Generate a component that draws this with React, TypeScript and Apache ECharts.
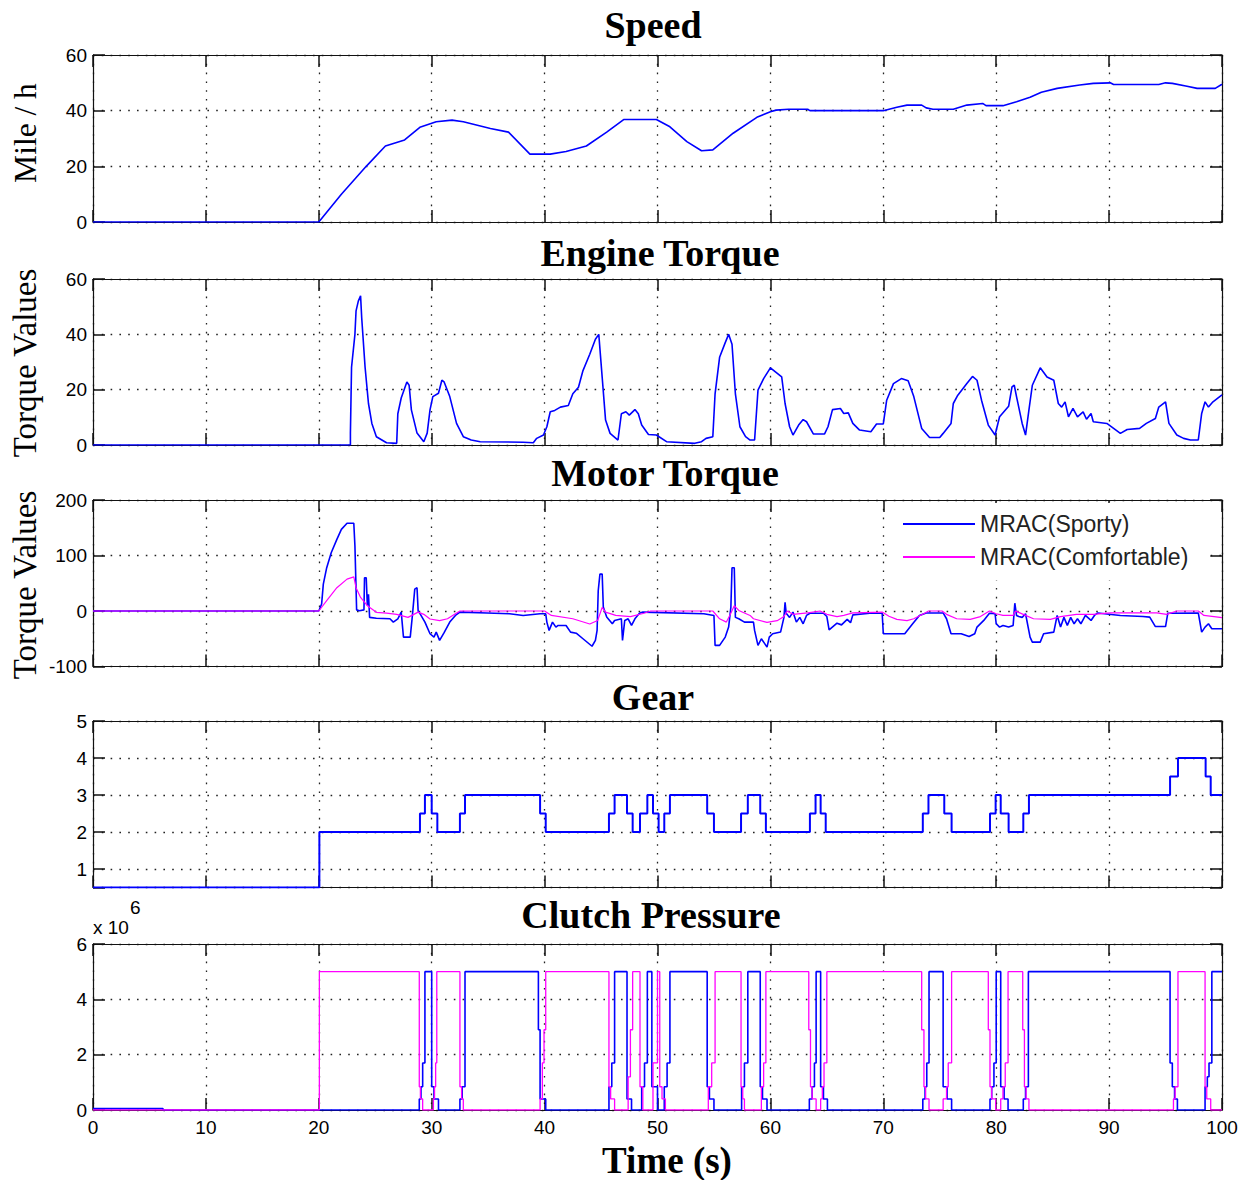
import React, { useEffect, useRef } from 'react';
import * as echarts from 'echarts';

// ---------- data (time s, value) ----------
const timeTicks = [0, 10, 20, 30, 40, 50, 60, 70, 80, 90, 100];

const speed: [number, number][] = [
  [0, 0], [20, 0], [22, 10], [24.2, 20], [25.9, 27.3], [27.6, 29.5], [28.95, 34], [30.4, 36], [31.8, 36.6],
  [32.8, 36], [35.2, 33.6], [36.8, 32.3], [38.7, 24.4], [40.5, 24.4], [41.9, 25.3], [43.7, 27.3], [45.5, 32.3],
  [47, 36.8], [49.9, 36.8], [51.1, 34.2], [52.6, 28.9], [53.9, 25.6], [54.9, 25.9], [56.7, 31.9], [58.8, 37.6],
  [60, 39.6], [60.5, 40.2], [61.6, 40.5], [63.3, 40.5], [63.5, 40], [70, 40], [71.2, 41.2], [72.1, 42], [73.4, 42],
  [73.8, 41], [74.4, 40.5], [76.2, 40.5], [77.4, 42], [78.8, 42.6], [79.1, 41.8], [80.6, 41.8], [81.8, 43.2],
  [83, 44.8], [84, 46.6], [85.4, 48], [87.4, 49.2], [88.6, 49.8], [90.1, 50], [90.4, 49.4], [94.4, 49.4], [95, 50],
  [95.6, 49.8], [96.9, 48.8], [97.8, 48], [99.4, 48], [100, 49.5],
];

const engineTorque: [number, number][] = [
  [0, 0], [22.8, 0], [22.8, 4.2], [22.9, 28.1], [23.2, 40], [23.3, 48.5], [23.5, 52], [23.7, 53.9], [23.8, 46],
  [24.1, 28.1], [24.4, 15], [24.7, 7.8], [25.1, 3], [26, 0.8], [26.9, 0.6], [27, 11.3], [27.3, 17], [27.8, 22.8],
  [28, 21.6], [28.2, 12.7], [28.7, 4.3], [29.3, 1.2], [29.6, 4.3], [29.85, 12.7], [30.1, 17.5], [30.6, 18.7],
  [30.9, 23.4], [31.1, 22.8], [31.6, 17.5], [32.2, 7.8], [32.8, 3], [33.5, 1.8], [34.3, 1.2], [38.1, 1], [39, 0.8],
  [39.3, 2.4], [39.9, 3.6], [40.2, 6.6], [40.5, 12], [40.9, 12.5], [41.4, 13.7], [42.1, 14.3], [42.5, 18.5],
  [43, 20.9], [43.4, 26.9], [44, 32.8], [44.5, 38.2], [44.8, 40], [45.1, 24.5], [45.4, 9], [45.8, 4.2], [46.5, 1.8],
  [46.8, 11.3], [47.2, 12], [47.5, 10.8], [48, 12.8], [48.3, 11.3], [48.6, 7.2], [49.2, 3.8], [49.9, 3.6],
  [50.8, 1.2], [53.3, 0.6], [53.9, 1.2], [54.3, 2.4], [54.9, 3], [55.1, 18.5], [55.5, 31.7], [56, 37], [56.3, 40],
  [56.6, 36.4], [56.9, 18.5], [57.3, 6.6], [57.8, 3], [58.2, 1.8], [58.6, 1.8], [58.9, 19.8], [59.4, 24], [60, 27.9],
  [61, 24.6], [61.3, 15], [61.7, 6.6], [62, 3.6], [62.5, 7.2], [62.9, 9.2], [63.2, 8.4], [63.8, 4], [64.8, 4],
  [65.1, 6.6], [65.5, 12.8], [66.2, 13.2], [66.5, 11.4], [66.9, 11.6], [67.3, 7.8], [67.9, 5.4], [68.9, 4.8],
  [69.4, 7.6], [70, 7.6], [70.3, 16.2], [70.9, 22.2], [71.6, 24], [72.2, 23.2], [72.7, 17.5], [73.4, 6], [74.1, 2.7],
  [75, 2.7], [75.3, 4.2], [76, 7.8], [76.2, 15], [76.6, 18], [77.4, 22.2], [77.9, 24.8], [78.3, 23.4], [78.7, 16.2],
  [79.3, 7.2], [79.9, 3.6], [80.3, 10.2], [81.1, 14], [81.4, 21], [81.6, 21.6], [81.8, 17.5], [82.3, 7.8],
  [82.6, 3.6], [82.9, 12.7], [83.2, 21.6], [83.9, 27.9], [84.5, 24.6], [85.1, 23.4], [85.5, 15], [85.8, 13.7],
  [86.1, 15.6], [86.4, 10.2], [86.8, 13.2], [87.2, 10.2], [87.7, 12], [88, 9.3], [88.4, 11.4], [88.6, 8.4],
  [89.8, 7.8], [91, 4.2], [91.6, 5.6], [92.7, 6], [93.3, 7.8], [94.1, 9.6], [94.4, 13.7], [95, 15.6], [95.3, 7.8],
  [96, 3.6], [96.6, 2.4], [97.2, 1.8], [97.9, 1.8], [98.2, 11.4], [98.5, 15.6], [98.8, 13.7], [99.2, 15.6],
  [100, 18.1],
];

const motorSporty: [number, number][] = [
  [0, 0], [20, 0], [20.25, 12.5], [20.4, 48.5], [20.7, 78], [21.1, 105], [21.6, 129], [22, 147], [22.5, 158],
  [23.1, 158], [23.2, 117], [23.35, 2], [23.6, 0.5], [24, 2], [24.05, 60], [24.2, 60], [24.3, 10], [24.4, 30],
  [24.5, -11.5], [25.1, -13], [26.3, -14], [26.6, -20], [27, -14], [27.3, -2], [27.5, -47], [28.1, -47], [28.3, -6],
  [28.5, 39.5], [28.7, 42], [28.8, 0], [29, -6], [29.4, -20], [29.85, -41], [30.2, -47], [30.4, -38], [30.7, -53],
  [31.1, -39], [31.6, -20], [32.1, -8], [32.5, -2], [34.9, -3.5], [36.9, -5], [38.1, -8], [39.6, -5], [40.1, -5],
  [40.2, -20], [40.4, -35], [40.7, -20], [41, -29], [41.2, -26], [41.9, -26], [42.3, -38], [42.8, -40], [43.4, -50],
  [44.2, -63.5], [44.5, -53], [44.65, -35], [44.75, 36.5], [44.9, 66.5], [45.1, 66.5], [45.2, 7], [45.5, -11],
  [46, -23], [46.2, -17], [46.8, -14], [46.9, -53], [47.1, -17], [47.4, -14], [47.7, -26], [48, -14], [48.4, -4],
  [48.7, -2], [54.1, -5], [55, -8], [55.1, -62], [55.5, -62], [56, -47], [56.3, -29], [56.5, 7], [56.6, 78],
  [56.8, 78], [56.9, -11.5], [57.2, -14], [57.7, -20], [58.5, -20], [58.6, -35], [58.9, -62], [59.2, -50],
  [59.7, -65], [59.9, -47], [60.2, -41], [60.9, -38], [61.2, -11.5], [61.3, 15.5], [61.4, -4], [61.7, -11.5],
  [62, -2], [62.3, -20], [62.6, -11.5], [62.9, -23], [63.2, -8], [63.5, -4], [64.7, -4], [65, -10], [65.2, -34],
  [65.9, -22], [66.3, -25], [66.8, -15], [67.1, -21], [67.3, -7], [68.8, -4], [69.9, -4], [70, -41], [71.9, -41],
  [72.6, -23], [73.2, -8], [73.8, -3.5], [75.3, -3.5], [75.6, -14], [76, -41], [76.9, -41], [77.6, -46],
  [78.1, -41], [78.3, -29], [78.9, -17], [79.4, -4], [79.9, -5], [80, -23], [80.3, -29], [80.6, -26], [81.1, -29],
  [81.5, -26], [81.65, 14], [81.8, -8], [82, -10], [82.3, -11.5], [82.6, -5], [83, -47], [83.2, -56], [83.9, -56],
  [84.2, -41], [85.1, -38], [85.4, -8], [85.7, -29], [86, -11.5], [86.3, -26], [86.6, -11.5], [86.9, -23],
  [87.2, -14], [87.5, -23], [87.9, -8], [88.4, -17], [88.7, -8], [89, -3.5], [91, -8], [93, -10], [93.6, -11],
  [94.1, -28], [95, -28], [95.2, -4], [97.9, -3.5], [98.2, -38], [98.5, -29], [98.8, -23], [99.1, -32], [100, -32],
];

const motorComfortable: [number, number][] = [
  [0, 0], [20, 0], [20.7, 18.5], [21.6, 42], [22.5, 57.5], [23.1, 61.6], [23.3, 42], [23.7, 24.5], [24.3, 9.5],
  [25.1, -2.4], [26, -4], [26.9, -6], [27.9, -11.5], [28.8, -2], [29.3, -6], [29.85, -14.4], [30.7, -17.4],
  [31.4, -14], [32.1, -5], [32.5, 0], [40, 0], [40.6, -8], [42.5, -14], [44, -23.5], [44.7, -17], [45.1, 6.5],
  [45.4, -2], [46.3, -8], [47.6, -10], [48.8, -4], [49.4, 0], [54.9, 0], [55.5, -14], [56.1, -20], [56.4, -8],
  [56.8, 9.5], [57.2, 1], [58.2, -8], [58.5, -14], [59.7, -20.5], [60.6, -17.4], [61.2, -10], [61.5, 0], [62, -6],
  [63.3, -3.5], [64.4, 0], [65, -6], [65.9, -10], [66.5, -8], [67.3, -3.5], [69.9, -2], [70.5, -9.5], [71.2, -15],
  [72.1, -17.4], [72.7, -14], [73.7, -3.5], [74, 0], [75.2, 0], [75.6, -6], [76.5, -14], [77.7, -15], [78.6, -10],
  [79.4, 0], [80, -5], [80.6, -8], [81.5, -8], [81.7, 0], [82.4, -6], [83.3, -14], [84.8, -15], [85.7, -10],
  [87.1, -6], [88.6, -6], [90.1, -3.5], [94.2, -3.5], [95.1, -6], [96, 0], [97.9, 0], [98.4, -8], [100, -12],
];

const gear: [number, number][] = [
  [0, 0.5], [20.05, 2], [28.96, 2.5], [29.4, 3], [30, 2.5], [30.5, 2], [32.5, 2.5], [32.95, 3], [39.6, 2.5],
  [40.1, 2], [45.7, 2.5], [46.2, 3], [47.3, 2.5], [47.8, 2], [48.45, 2.5], [49.1, 3], [49.6, 2.5], [50.1, 2],
  [50.6, 2.5], [51.1, 3], [54.4, 2.5], [55, 2], [57.4, 2.5], [58, 3], [59.1, 2.5], [59.6, 2], [63.5, 2.5],
  [64, 3], [64.45, 2.5], [64.9, 2], [73.5, 2.5], [74, 3], [75.4, 2.5], [76.05, 2], [79.45, 2.5], [79.95, 3],
  [80.4, 2.5], [81.1, 2], [82.4, 2.5], [82.9, 3], [95.4, 3.5], [96.1, 4], [98.55, 3.5], [99, 3], [100, 3],
];

// clutch pressure in units of 10^6
const clutchSporty: [number, number][] = [
  [0, 0.05], [6.2, 0], [28.9, 0.4], [29.05, 0.84], [29.2, 1.7], [29.4, 5], [30, 0.84], [30.2, 0.4], [30.6, 0],
  [32.5, 0.4], [32.7, 0.84], [32.95, 5], [39.45, 2.9], [39.6, 0.4], [40.1, 0], [45.7, 0.84], [45.95, 1.7],
  [46.2, 5], [47.3, 0.4], [47.7, 0], [48.6, 0.84], [48.85, 1.7], [49.1, 5], [49.5, 0.84], [50, 0], [50.6, 0.84],
  [50.85, 1.7], [51.1, 5], [54.4, 0.84], [54.6, 0.4], [55, 0], [57.45, 0.84], [57.7, 1.7], [58, 5], [59.1, 0.84],
  [59.3, 0.4], [59.7, 0], [63.45, 0.4], [63.7, 0.84], [63.9, 1.7], [64.05, 5], [64.45, 0.84], [64.7, 0.4],
  [65.05, 0], [73.5, 0.4], [73.7, 0.84], [73.85, 1.7], [74.05, 5], [75.3, 0.84], [75.65, 0.4], [76.05, 0],
  [79.45, 0.4], [79.6, 0.84], [79.8, 1.7], [80, 5], [80.4, 0.84], [80.7, 0.4], [81.05, 0], [82.4, 0.4],
  [82.6, 0.84], [82.85, 5], [95.4, 1.7], [95.6, 0.84], [95.8, 0.4], [96.05, 0], [98.5, 0.84], [98.7, 1.2],
  [98.85, 1.7], [99.1, 5], [100, 5],
];

const clutchComfortable: [number, number][] = [
  [0, 0], [20.05, 5], [28.9, 0.84], [29, 0.4], [29.2, 0], [30.15, 0.4], [30.25, 0.84], [30.35, 1.7], [30.45, 5],
  [32.5, 0.84], [32.65, 0.4], [32.8, 0], [39.6, 0.4], [39.8, 1.7], [39.95, 2.9], [40.1, 5], [45.7, 0.84],
  [45.85, 0.4], [46.2, 0], [47.4, 1.2], [47.6, 2.9], [47.8, 5], [48.45, 0.84], [48.7, 0], [49.6, 1.7], [50, 5],
  [50.2, 0.84], [50.4, 0.4], [50.7, 0], [54.5, 0.84], [54.8, 1.7], [55.1, 5], [57.4, 0.84], [57.55, 0.4],
  [57.7, 0], [59.2, 0.84], [59.4, 1.7], [59.6, 5], [63.4, 2.9], [63.55, 0.84], [63.7, 0.4], [64.05, 0],
  [64.45, 0.4], [64.6, 0.84], [64.75, 1.7], [65, 5], [73.4, 2.9], [73.6, 0.84], [73.75, 0.4], [74.05, 0],
  [75.3, 0.4], [75.6, 0.84], [75.75, 1.7], [76.05, 5], [79.3, 2.9], [79.45, 0.84], [79.6, 0.4], [79.95, 0],
  [80.4, 0.4], [80.6, 0.84], [80.8, 1.7], [81.05, 5], [82.35, 2.9], [82.5, 0.84], [82.65, 0.4], [82.9, 0],
  [95.7, 0.4], [95.85, 0.84], [96.1, 5], [98.5, 0.84], [98.65, 0.4], [99, 0], [100, 0],
];

const panelTitles = ['Speed', 'Engine Torque', 'Motor Torque', 'Gear', 'Clutch Pressure'];
const yNames = ['Mile / h', 'Torque Values', 'Torque Values'];
const legendNames = ['MRAC(Sporty)', 'MRAC(Comfortable)'];
const yMin = [0, 0, -100, 0.5, 0];
const yMax = [60, 60, 200, 5, 6];
const yInterval: (number | undefined)[] = [20, 20, 100, undefined, 2];

// ---------- layout ----------
const gridTop = [55, 279, 500, 721, 944];
const gridBottom = [222, 445, 666.5, 887.5, 1110];
const gridLeft = 93;
const gridRight = 1222;
const titleX = [653, 660, 665, 653, 651];
const titleY = [25, 253, 473, 697, 915];
const yNameY = [133, 363, 585];
const yNameSize = [31.5, 33, 33];

const BLUE = '#0000ff';
const MAGENTA = '#ff00ff';
const SANS = '"Liberation Sans", Arial, Helvetica, sans-serif';
const SERIF = '"Liberation Serif", "Times New Roman", serif';

function buildOption() {
  const grid: any[] = [];
  const xAxis: any[] = [];
  const yAxis: any[] = [];
  const dotted = { color: '#222', width: 1.3, type: [1.6, 7.2] };
  const line = { show: true, onZero: false, lineStyle: { color: '#111', width: 1.2 } };
  const tick = { show: true, inside: true, length: 12, lineStyle: { color: '#111', width: 1.5 } };

  for (let i = 0; i < 5; i++) {
    grid.push({
      left: gridLeft,
      top: gridTop[i],
      width: gridRight - gridLeft,
      height: gridBottom[i] - gridTop[i],
      containLabel: false,
    });
    xAxis.push({
      type: 'value', gridIndex: i, min: timeTicks[0], max: timeTicks[timeTicks.length - 1], interval: 10,
      position: 'bottom', axisLine: line, axisTick: tick,
      axisLabel: { show: i === 4, fontSize: 19, fontFamily: SANS, color: '#000', margin: 8 },
      splitLine: { show: true, lineStyle: dotted },
    });
    xAxis.push({
      type: 'value', gridIndex: i, min: 0, max: 100, interval: 10, position: 'top',
      axisLine: line, axisTick: tick, axisLabel: { show: false }, splitLine: { show: false },
    });
    const yBase: any = { type: 'value', gridIndex: i, min: yMin[i], max: yMax[i] };
    if (yInterval[i] !== undefined) yBase.interval = yInterval[i];
    else yBase.splitNumber = 5;
    yAxis.push({
      ...yBase, position: 'left', axisLine: line, axisTick: tick,
      axisLabel: {
        show: true, fontSize: 19, fontFamily: SANS, color: '#000', margin: 6,
        formatter: (v: number) => (Number.isInteger(v) ? String(v) : ''),
      },
      splitLine: { show: true, lineStyle: dotted },
    });
    yAxis.push({
      ...yBase, position: 'right', axisLine: line, axisTick: tick,
      axisLabel: { show: false }, splitLine: { show: false },
    });
  }

  const base = { type: 'line', showSymbol: false, symbol: 'none', clip: true, animation: false };
  const series: any[] = [
    { ...base, name: 'Speed', xAxisIndex: 0, yAxisIndex: 0, data: speed, lineStyle: { color: BLUE, width: 1.6 }, itemStyle: { color: BLUE } },
    { ...base, name: 'Engine Torque', xAxisIndex: 2, yAxisIndex: 2, data: engineTorque, lineStyle: { color: BLUE, width: 1.6 }, itemStyle: { color: BLUE } },
    { ...base, name: legendNames[0], xAxisIndex: 4, yAxisIndex: 4, data: motorSporty, lineStyle: { color: BLUE, width: 1.6 }, itemStyle: { color: BLUE } },
    { ...base, name: legendNames[1], xAxisIndex: 4, yAxisIndex: 4, data: motorComfortable, lineStyle: { color: MAGENTA, width: 1.2 }, itemStyle: { color: MAGENTA } },
    { ...base, name: 'Gear', xAxisIndex: 6, yAxisIndex: 6, data: gear, step: 'end', lineStyle: { color: BLUE, width: 2 }, itemStyle: { color: BLUE } },
    { ...base, name: 'Clutch Sporty', xAxisIndex: 8, yAxisIndex: 8, data: clutchSporty, step: 'end', lineStyle: { color: BLUE, width: 1.6 }, itemStyle: { color: BLUE } },
    { ...base, name: 'Clutch Comfortable', xAxisIndex: 8, yAxisIndex: 8, data: clutchComfortable, step: 'end', lineStyle: { color: MAGENTA, width: 1.3 }, itemStyle: { color: MAGENTA } },
  ];

  const txt = (x: number, y: number, text: string, size: number, family: string, weight: string, rotation = 0, align = 'center', vAlign = 'middle') => ({
    type: 'text', x, y, rotation, z: 10,
    style: {
      text, fontSize: size, fontFamily: family, fontWeight: weight, fill: '#000',
      textAlign: align, textVerticalAlign: vAlign, align, verticalAlign: vAlign,
    },
  });

  const graphic: any[] = [];
  for (let i = 0; i < 5; i++) graphic.push(txt(titleX[i], titleY[i], panelTitles[i], 38, SERIF, 'bold'));
  for (let i = 0; i < 3; i++) graphic.push(txt(25, yNameY[i], yNames[i], yNameSize[i], SERIF, 'normal', Math.PI / 2));
  graphic.push(txt(667, 1160, 'Time (s)', 37, SERIF, 'bold'));
  graphic.push(txt(93, 927, 'x 10', 19, SANS, 'normal', 0, 'left', 'middle'));
  graphic.push(txt(130, 907, '6', 19, SANS, 'normal', 0, 'left', 'middle'));

  return {
    animation: false,
    backgroundColor: '#fff',
    grid, xAxis, yAxis, series, graphic,
    legend: {
      data: [
        { name: legendNames[0], icon: 'rect', itemStyle: { color: BLUE } },
        { name: legendNames[1], icon: 'rect', itemStyle: { color: MAGENTA } },
      ],
      orient: 'vertical',
      left: 887,
      top: 503,
      padding: [9.5, 22, 12, 16],
      itemWidth: 72,
      itemHeight: 2,
      itemGap: 10,
      backgroundColor: '#fff',
      borderWidth: 0,
      selectedMode: false,
      textStyle: { fontSize: 23, fontFamily: SANS, color: '#222' },
    },
  };
}

export default function App() {
  const ref = useRef<HTMLDivElement>(null);
  useEffect(() => {
    if (!ref.current) return;
    const chart = echarts.init(ref.current, null, { renderer: 'svg' });
    chart.setOption(buildOption() as any);
    return () => chart.dispose();
  }, []);
  return (
    <div
      ref={ref}
      style={{ position: 'absolute', left: 0, top: 0, width: 1247, height: 1180, background: '#fff' }}
    />
  );
}
